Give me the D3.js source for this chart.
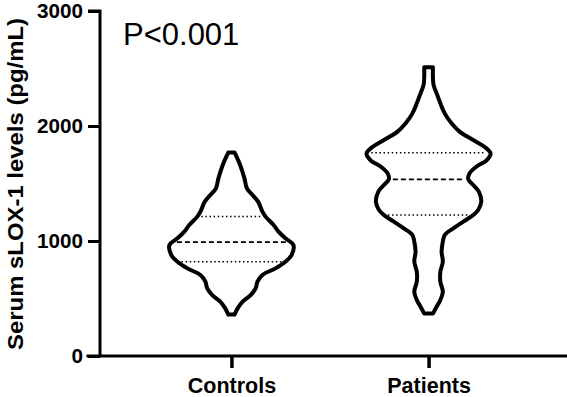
<!DOCTYPE html>
<html>
<head>
<meta charset="utf-8">
<script src="https://cdn.jsdelivr.net/npm/d3@7/dist/d3.min.js"></script>
<style>
  html, body { margin: 0; padding: 0; background: #fff; }
  svg { display: block; font-family: "Liberation Sans", Arial, Helvetica, sans-serif; }
</style>
</head>
<body>
<svg id="chart" width="567" height="397"></svg>
<script>
// ---------- data ----------
const categories = ["Controls", "Patients"];
const yTicks = [0, 1000, 2000, 3000];
const yLabel = "Serum sLOX-1 levels (pg/mL)";
const pText = "P<0.001";

// violin outlines: values (pg/mL) and relative density at each value
const controlsValues  = [1770, 1661, 1545, 1458, 1400, 1342, 1255, 1212, 1139, 1081, 1023, 965, 878, 820, 762, 704, 646, 588, 530, 472, 414, 360];
const controlsDensity = [0.05, 0.14, 0.21, 0.25, 0.34, 0.43, 0.50, 0.55, 0.68, 0.76, 0.87, 1.00, 0.97, 0.87, 0.71, 0.50, 0.42, 0.39, 0.31, 0.18, 0.10, 0.05];
const patientsValues  = [2510, 2429, 2357, 2284, 2197, 2110, 2023, 1951, 1878, 1820, 1762, 1704, 1646, 1588, 1536, 1487, 1429, 1342, 1270, 1226, 1168, 1110, 1052, 994, 907, 820, 733, 646, 559, 487, 429, 370];
const patientsDensity = [0.07, 0.07, 0.08, 0.13, 0.19, 0.26, 0.37, 0.50, 0.72, 0.90, 1.00, 0.94, 0.77, 0.66, 0.64, 0.72, 0.81, 0.85, 0.80, 0.72, 0.56, 0.40, 0.26, 0.23, 0.21, 0.23, 0.19, 0.19, 0.23, 0.19, 0.13, 0.07];

// quartiles [Q1, median, Q3]
const controlsQuartiles = [820, 990, 1212];
const patientsQuartiles = [1226, 1536, 1768];

// ---------- layout ----------
const svg = d3.select("#chart");
const x0 = 100, yBottom = 356, yTop = 11;

const y = d3.scaleLinear().domain([0, 3000]).range([yBottom, yTop]);
const x = d3.scalePoint().domain(categories).range([100, 560]).padding(2/3);
const wScale = d3.scaleLinear().domain([0, 1]).range([0, 62]);

const groups = [
  { name: "Controls", values: controlsValues, density: controlsDensity, q: controlsQuartiles },
  { name: "Patients", values: patientsValues, density: patientsDensity, q: patientsQuartiles }
];

// ---------- violins ----------
groups.forEach(g => {
  const cx = x(g.name);
  const pts = g.values.map((v, i) => ({ v, d: g.density[i] }));
  const area = d3.area()
    .y(p => y(p.v))
    .x0(p => cx - wScale(p.d))
    .x1(p => cx + wScale(p.d))
    .curve(d3.curveCatmullRom.alpha(0.5));
  svg.append("path")
    .datum(pts)
    .attr("d", area)
    .attr("fill", "none")
    .attr("stroke", "#000")
    .attr("stroke-width", 4)
    .attr("stroke-linejoin", "round");

  const sorted = pts.slice().sort((a, b) => a.v - b.v);
  const dens = v => {
    for (let i = 0; i < sorted.length - 1; i++) {
      if (v >= sorted[i].v && v <= sorted[i + 1].v) {
        const t = (v - sorted[i].v) / (sorted[i + 1].v - sorted[i].v);
        return sorted[i].d + t * (sorted[i + 1].d - sorted[i].d);
      }
    }
    return 0;
  };
  g.q.forEach((qv, i) => {
    const hw = wScale(dens(qv)) - 4;
    svg.append("line")
      .attr("x1", cx - hw).attr("x2", cx + hw)
      .attr("y1", y(qv)).attr("y2", y(qv))
      .attr("stroke", "#000")
      .attr("stroke-width", i === 1 ? 1.8 : 1.5)
      .attr("stroke-dasharray", i === 1 ? "5,3" : "1.5,2.6");
  });
});

// ---------- axes ----------
const yAxis = d3.axisLeft(y).tickValues(yTicks).tickSize(12).tickPadding(5).tickFormat(d3.format("d"));
const gy = svg.append("g").attr("transform", `translate(${x0},0)`).call(yAxis);
gy.select(".domain").attr("stroke", "#000").attr("stroke-width", 3).attr("d", `M-12,${yTop}H0V${yBottom}`);
gy.selectAll(".tick line").attr("stroke", "#000").attr("stroke-width", 3);
gy.selectAll(".tick text").attr("fill", "#000").style("font-size", "20px").style("font-weight", "bold")
  .style("font-family", "'Liberation Sans', Arial, sans-serif")
  .attr("textLength", d => String(d).length * 11.5)
  .attr("lengthAdjust", "spacingAndGlyphs");

const xAxis = d3.axisBottom(x).tickSize(12).tickPadding(8);
const gx = svg.append("g").attr("transform", `translate(0,${yBottom})`).call(xAxis);
gx.select(".domain").attr("stroke", "#000").attr("stroke-width", 3).attr("d", `M${x0 - 13.5},0H567`);
gx.selectAll(".tick line").attr("stroke", "#000").attr("stroke-width", 3.5);
gx.selectAll(".tick text").attr("fill", "#000").attr("dy", 0).attr("y", 36.5)
  .style("font-size", "21.5px").style("font-weight", "bold")
  .style("font-family", "'Liberation Sans', Arial, sans-serif");

// y label
svg.append("text")
  .attr("transform", "translate(23,184) rotate(-90)")
  .attr("text-anchor", "middle")
  .attr("textLength", 332)
  .attr("lengthAdjust", "spacingAndGlyphs")
  .style("font-size", "21.5px")
  .style("font-weight", "bold")
  .text(yLabel);

// P value
svg.append("text")
  .attr("x", 123).attr("y", 45)
  .style("font-size", "31px")
  .text(pText);
</script>
</body>
</html>
